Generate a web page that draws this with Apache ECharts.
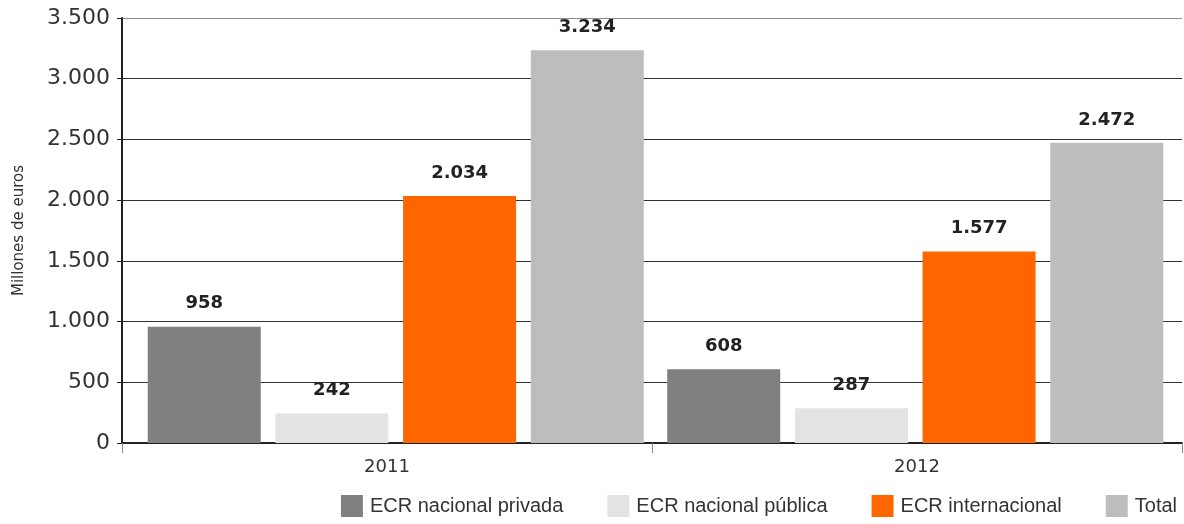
<!DOCTYPE html>
<html>
<head>
<meta charset="utf-8">
<style>
  html, body { margin: 0; padding: 0; background: #fff; }
  #chart { width: 1184px; height: 524px; }
</style>
<script src="https://cdn.jsdelivr.net/npm/echarts@6/dist/echarts.min.js"></script>
</head>
<body>
<div id="chart"></div>
<script>
// Years on the category axis
const years = ['2011', '2012'];

// Series names and values (millions of euros)
const seriesNames = ['ECR nacional privada', 'ECR nacional pública', 'ECR internacional', 'Total'];
const nacionalPrivada = [958, 608];
const nacionalPublica = [242, 287];
const internacional = [2034, 1577];
const total = [3234, 2472];

const seriesColors = ['#808080', '#e3e3e3', '#ff6600', '#bdbdbd'];

// Value axis range
const Y_MIN = 0;
const Y_MAX = 3500;
const Y_STEP = 500;

// Thousands separator in Spanish style: 3.500
function fmt(v) {
  return String(v).replace(/\B(?=(\d{3})+(?!\d))/g, '.');
}

const SANS = '"Liberation Sans", Arial, sans-serif';
const WIDE = '"DejaVu Sans", sans-serif';

const chart = echarts.init(document.getElementById('chart'));

const values = [nacionalPrivada, nacionalPublica, internacional, total];

chart.setOption({
  animation: false,
  textStyle: { fontFamily: SANS },
  // grid 0 carries the visible axes; grid 1 (same height) places the bar groups
  grid: [
    { left: 122, right: 2, top: 18, bottom: 81, containLabel: false },
    { left: 136, right: 9, top: 18, bottom: 81, containLabel: false }
  ],
  legend: {
    data: seriesNames,
    right: 2,
    bottom: 2,
    itemWidth: 22,
    itemHeight: 22,
    itemGap: 44,
    icon: 'rect',
    textStyle: { fontSize: 20, color: '#333', fontFamily: SANS, padding: [0, 0, 0, 2] }
  },
  xAxis: [
    {
      type: 'category',
      gridIndex: 0,
      data: years,
      axisLine: { lineStyle: { color: '#222', width: 2 } },
      axisTick: { show: true, length: 10, lineStyle: { color: '#888', width: 1 } },
      axisLabel: { fontSize: 18, color: '#333', margin: 15, fontFamily: WIDE }
    },
    {
      type: 'category',
      gridIndex: 1,
      data: years,
      show: false
    }
  ],
  yAxis: [
    {
      type: 'value',
      gridIndex: 0,
      min: Y_MIN,
      max: Y_MAX,
      interval: Y_STEP,
      name: 'Millones de euros',
      nameLocation: 'middle',
      nameRotate: 90,
      nameGap: 95,
      nameTextStyle: { fontSize: 15, color: '#333', fontFamily: WIDE },
      axisLine: { show: true, lineStyle: { color: '#222', width: 2 } },
      axisTick: { show: true, length: 5, lineStyle: { color: '#222' } },
      axisLabel: { fontSize: 22, color: '#333', margin: 12, formatter: fmt, fontFamily: WIDE },
      splitLine: {
        show: true,
        lineStyle: {
          color: ['#333', '#333', '#333', '#333', '#333', '#333', '#333', '#8c8c8c'],
          width: 1
        }
      }
    },
    {
      type: 'value',
      gridIndex: 1,
      min: Y_MIN,
      max: Y_MAX,
      interval: Y_STEP,
      show: false
    }
  ],
  series: seriesNames.map((name, i) => ({
    name: name,
    type: 'bar',
    xAxisIndex: 1,
    yAxisIndex: 1,
    data: values[i],
    barWidth: 113,
    barGap: '13%',
    itemStyle: { color: seriesColors[i] },
    label: {
      show: true,
      position: 'top',
      distance: 14,
      fontSize: 18,
      fontWeight: 'bold',
      color: '#222',
      fontFamily: WIDE,
      formatter: p => fmt(p.value)
    }
  }))
});
</script>
</body>
</html>
